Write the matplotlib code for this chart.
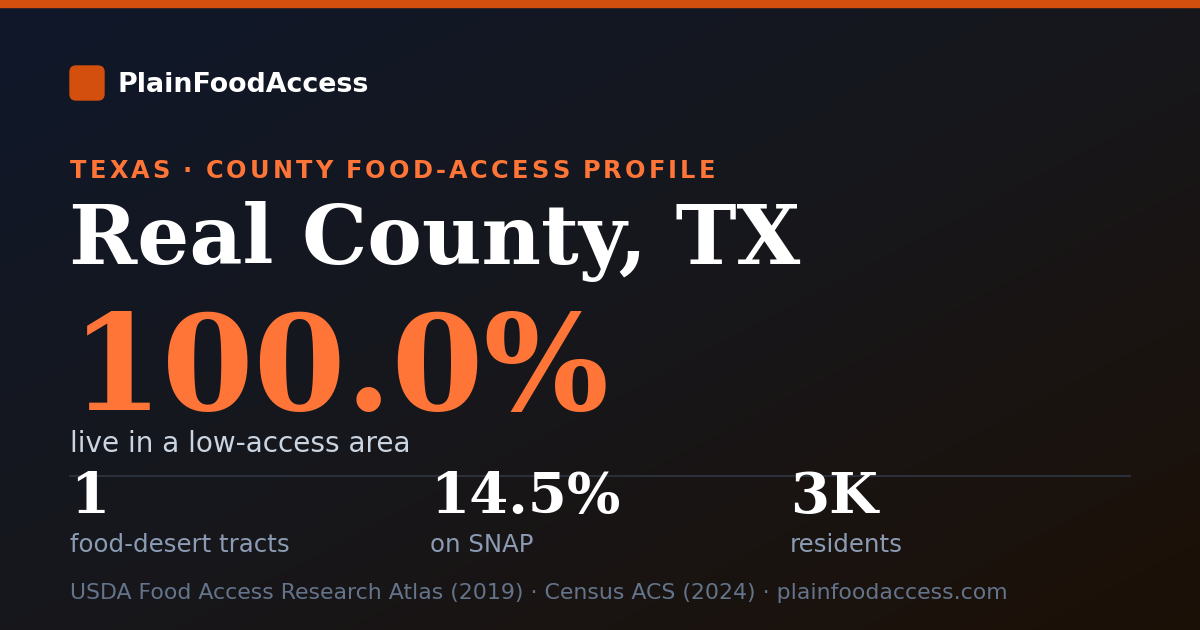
import numpy as np
import matplotlib.pyplot as plt
from matplotlib.patches import FancyBboxPatch, Rectangle

brand = "PlainFoodAccess"
kicker = "TEXAS · COUNTY FOOD-ACCESS PROFILE"
title = "Real County, TX"
headline_value = "100.0%"
headline_label = "live in a low-access area"
stat_values = ["1", "14.5%", "3K"]
stat_labels = ["food-desert tracts", "on SNAP", "residents"]
footer = "USDA Food Access Research Atlas (2019) · Census ACS (2024) · plainfoodaccess.com"

W, H = 1200, 630
fig = plt.figure(figsize=(12, 6.3), dpi=100)
ax = fig.add_axes([0, 0, 1, 1])
ax.set_xlim(0, W)
ax.set_ylim(H, 0)
ax.axis("off")

# diagonal gradient background
c0 = np.array([0x0f, 0x17, 0x2a]) / 255
c1 = np.array([0x1c, 0x10, 0x06]) / 255
yy, xx = np.mgrid[0:H, 0:W]
t = (xx / W + yy / H) / 2
t = np.clip(t, 0, 1)[..., None]
mid = np.array([0x17, 0x17, 0x1c]) / 255
img = np.where(t < 0.5, c0 + (mid - c0) * (t / 0.5), mid + (c1 - mid) * ((t - 0.5) / 0.5))
ax.imshow(img, extent=[0, W, H, 0], aspect="auto", zorder=0)

ax.add_patch(Rectangle((0, 0), W, 7, color="#d24f0d", zorder=1))
ax.add_patch(FancyBboxPatch((70, 66), 34, 34, boxstyle="round,pad=0,rounding_size=6",
                            color="#d24f0d", zorder=1))

orange = "#ff7538"
ax.text(118, 91.5, brand, fontsize=19.4, fontweight="bold", color="white",
        family="DejaVu Sans", va="baseline", zorder=2)

# letter-spaced kicker
fig.canvas.draw()
r = fig.canvas.get_renderer()
x = 70
for ch in kicker:
    if ch == " ":
        x += 7 + 3.1
        continue
    tt = ax.text(x, 178, ch, fontsize=17.3, fontweight="bold", color=orange,
                 family="DejaVu Sans", va="baseline", zorder=2)
    x += tt.get_window_extent(renderer=r).width + 3.1

ax.text(69, 264, title, fontsize=59, fontweight="bold", color="white",
        family="DejaVu Serif", va="baseline", zorder=2)
ax.text(71, 410, headline_value, fontsize=95, fontweight="bold", color=orange,
        family="DejaVu Serif", va="baseline", zorder=2)
ax.text(70, 452, headline_label, fontsize=20.1, color="#cbd5e1",
        family="DejaVu Sans", va="baseline", zorder=2)

ax.plot([70, 1130], [475.5, 475.5], color="#2a2f3a", lw=1.5, zorder=1)
for i, (v, lab) in enumerate(zip(stat_values, stat_labels)):
    sx = 70 + i * 360
    ax.text(sx, 513, v, fontsize=40.5, fontweight="bold", color="white",
            family="DejaVu Serif", va="baseline", zorder=2)
    ax.text(sx, 552, lab, fontsize=17.6, color="#8a9bb3",
            family="DejaVu Sans", va="baseline", zorder=2)

ax.text(70, 599, footer, fontsize=15.8, color="#64748b",
        family="DejaVu Sans", va="baseline", zorder=2)

fig.savefig("out.png", dpi=100)
